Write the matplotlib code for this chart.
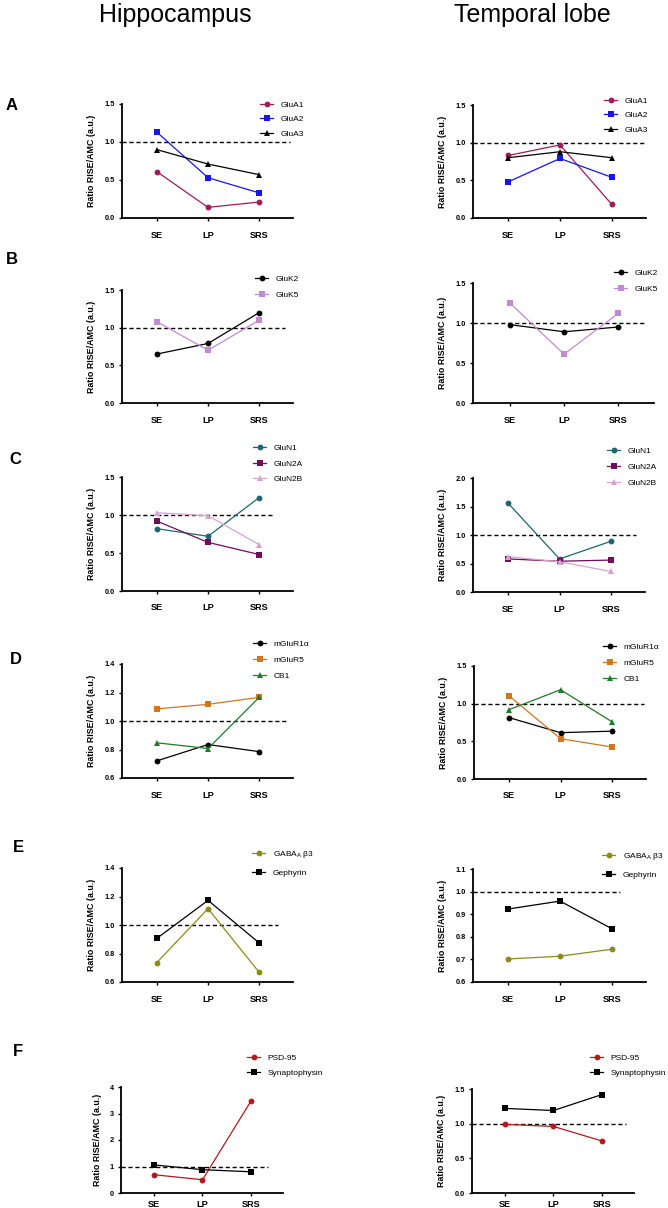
import matplotlib
matplotlib.use("Agg")
import matplotlib.pyplot as plt

plt.rcParams['font.family'] = ['Liberation Sans', 'DejaVu Sans']
plt.rcParams['mathtext.fontset'] = 'custom'
plt.rcParams['mathtext.rm'] = 'Liberation Sans'

W, H = 668, 1208
DPI = 100

categories = ["SE", "LP", "SRS"]
ylabel_text = "Ratio RISE/AMC (a.u.)"
column_titles = ["Hippocampus", "Temporal lobe"]
panel_letters = ["A", "B", "C", "D", "E", "F"]

# ---- data ----
# A: AMPA receptor subunits
glua_names = ["GluA1", "GluA2", "GluA3"]
glua_hippo = [[0.61, 0.14, 0.21], [1.13, 0.53, 0.33], [0.90, 0.71, 0.57]]
glua_temp = [[0.83, 0.97, 0.18], [0.48, 0.79, 0.54], [0.80, 0.88, 0.80]]
# B: kainate receptor subunits
gluk_names = ["GluK2", "GluK5"]
gluk_hippo = [[0.65, 0.79, 1.20], [1.08, 0.70, 1.10]]
gluk_temp = [[0.98, 0.89, 0.95], [1.25, 0.61, 1.12]]
# C: NMDA receptor subunits
glun_names = ["GluN1", "GluN2A", "GluN2B"]
glun_hippo = [[0.82, 0.72, 1.23], [0.92, 0.64, 0.48], [1.03, 0.99, 0.61]]
glun_temp = [[1.56, 0.58, 0.89], [0.58, 0.54, 0.56], [0.62, 0.53, 0.36]]
# D: metabotropic / CB1
mglu_names = ["mGluR1\u03b1", "mGluR5", "CB1"]
mglu_hippo = [[0.72, 0.835, 0.785], [1.085, 1.117, 1.166], [0.847, 0.807, 1.166]]
mglu_temp = [[0.815, 0.615, 0.635], [1.105, 0.535, 0.425], [0.92, 1.185, 0.76]]
# E: GABAergic
gaba_names = ["GABA$_\\mathregular{A}$ \u03b23", "Gephyrin"]
gaba_hippo = [[0.736, 1.115, 0.668], [0.906, 1.173, 0.874]]
gaba_temp = [[0.702, 0.714, 0.745], [0.923, 0.958, 0.836]]
# F: synaptic markers
syn_names = ["PSD-95", "Synaptophysin"]
syn_hippo = [[0.69, 0.50, 3.47], [1.06, 0.88, 0.80]]
syn_temp = [[0.99, 0.96, 0.75], [1.22, 1.19, 1.42]]

# y ticks per panel
yticks_A = [0.0, 0.5, 1.0, 1.5]
yticks_B = [0.0, 0.5, 1.0, 1.5]
yticks_C_h = [0.0, 0.5, 1.0, 1.5]
yticks_C_t = [0.0, 0.5, 1.0, 1.5, 2.0]
yticks_D_h = [0.6, 0.8, 1.0, 1.2, 1.4]
yticks_D_t = [0.0, 0.5, 1.0, 1.5]
yticks_E_h = [0.6, 0.8, 1.0, 1.2, 1.4]
yticks_E_t = [0.6, 0.7, 0.8, 0.9, 1.0, 1.1]
yticks_F_h = [0, 1, 2, 3, 4]
yticks_F_t = [0.0, 0.5, 1.0, 1.5]

# ---- styles ----
sty_glua = [("#A3195B", "o"), ("#1414F5", "s"), ("#000000", "^")]
sty_gluk = [("#000000", "o"), ("#C38AD3", "s")]
sty_glun = [("#1F6675", "o"), ("#6E0F5B", "s"), ("#D9A2D2", "^")]
sty_mglu = [("#000000", "o"), ("#D2761E", "s"), ("#1E7B28", "^")]
sty_gaba = [("#8C8C12", "o"), ("#000000", "s")]
sty_syn = [("#B3191E", "o"), ("#000000", "s")]

# layout: (L, R, T, B) px, dashed end (data x), legend (x px, top px, labelspacing), tick fmt, x label pad
panels = [
    (glua_names, glua_hippo, sty_glua, yticks_A, (122, 293, 104, 218), 2.60, (260, 101, 0.8), "{:.1f}", 6.5),
    (glua_names, glua_temp, sty_glua, yticks_A, (473, 646, 105, 218), 2.66, (604, 97, 0.8), "{:.1f}", 6.5),
    (gluk_names, gluk_hippo, sty_gluk, yticks_B, (122, 293, 290, 403), 2.50, (255, 275, 1.0), "{:.1f}", 6.5),
    (gluk_names, gluk_temp, sty_gluk, yticks_B, (473, 654, 283, 403), 2.48, (614, 269, 1.0), "{:.1f}", 6.5),
    (glun_names, glun_hippo, sty_glun, yticks_C_h, (122, 293, 477, 591), 2.27, (253, 444, 0.95), "{:.1f}", 6.5),
    (glun_names, glun_temp, sty_glun, yticks_C_t, (473, 645, 478, 592), 2.49, (607, 447, 1.0), "{:.1f}", 6.5),
    (mglu_names, mglu_hippo, sty_mglu, yticks_D_h, (122, 293, 664, 778), 2.56, (253, 640, 0.98), "{:.1f}", 6.5),
    (mglu_names, mglu_temp, sty_mglu, yticks_D_t, (474, 646, 666, 779), 2.62, (603, 643, 1.0), "{:.1f}", 6.5),
    (gaba_names, gaba_hippo, sty_gaba, yticks_E_h, (122, 293, 868, 982), 2.37, (252, 849, 1.05), "{:.1f}", 6.5),
    (gaba_names, gaba_temp, sty_gaba, yticks_E_t, (473, 646, 869, 982), 2.16, (602, 851, 1.05), "{:.1f}", 6.5),
    (syn_names, syn_hippo, sty_syn, yticks_F_h, (121, 283, 1087, 1193), 2.35, (247, 1054, 0.85), "{:.0f}", 2.2),
    (syn_names, syn_temp, sty_syn, yticks_F_t, (472, 634, 1089, 1193), 2.50, (590, 1054, 0.85), "{:.1f}", 2.2),
]

letter_pos = [(6, 105), (6, 260), (9, 459), (10, 660), (13, 847), (13, 1051)]

fig = plt.figure(figsize=(W / DPI, H / DPI), dpi=DPI)
fig.patch.set_facecolor("white")

XMIN, XMAX = -0.68, 2.66
xs = list(range(len(categories)))

for names, values, styles, yticks, (L, R, T, B), dash_end, (lx, ly, lsp), fmt, xpad in panels:
    ax = fig.add_axes([L / W, 1 - B / H, (R - L) / W, (B - T) / H])
    ax.set_xlim(XMIN, XMAX)
    ax.set_ylim(yticks[0], yticks[-1])
    ax.plot([XMIN, dash_end], [1.0, 1.0], color="black", lw=1.0,
            linestyle=(0, (3, 2)), zorder=1)
    handles = []
    for name, vals, (col, mk) in zip(names, values, styles):
        ms = 4.2 if mk != "^" else 4.4
        ln, = ax.plot(xs, vals, color=col, marker=mk, markersize=ms, lw=0.9,
                      markeredgewidth=0, clip_on=False, zorder=3, label=name)
        handles.append(ln)
    for s in ["top", "right"]:
        ax.spines[s].set_visible(False)
    for s in ["left", "bottom"]:
        ax.spines[s].set_linewidth(1.3)
    ax.set_yticks(yticks)
    ax.set_yticklabels([fmt.format(v) for v in yticks], fontsize=5.3,
                       fontweight="bold")
    ax.set_xticks(xs)
    ax.set_xticklabels(categories, fontsize=6.6, fontweight="bold")
    ax.tick_params(axis="y", length=2.5, width=1.0, pad=2.5)
    ax.tick_params(axis="x", length=2.5, width=1.0, pad=xpad)
    ax.set_ylabel(ylabel_text, fontsize=6.4, fontweight="bold", labelpad=6)
    ax.legend(handles=handles, loc="upper left",
              bbox_to_anchor=(lx / W, 1 - ly / H), bbox_transform=fig.transFigure,
              frameon=False, fontsize=6.0, handlelength=1.6, handletextpad=0.9,
              labelspacing=lsp, borderpad=0, borderaxespad=0)

for letter, (x, y) in zip(panel_letters, letter_pos):
    fig.text(x / W, 1 - y / H, letter, fontsize=12, fontweight="bold",
             ha="left", va="center")

fig.text(175 / W, 1 - 15 / H, column_titles[0], fontsize=18, ha="center", va="center")
fig.text(532 / W, 1 - 15 / H, column_titles[1], fontsize=18, ha="center", va="center")

fig.savefig("out.png", dpi=DPI, facecolor="white")
